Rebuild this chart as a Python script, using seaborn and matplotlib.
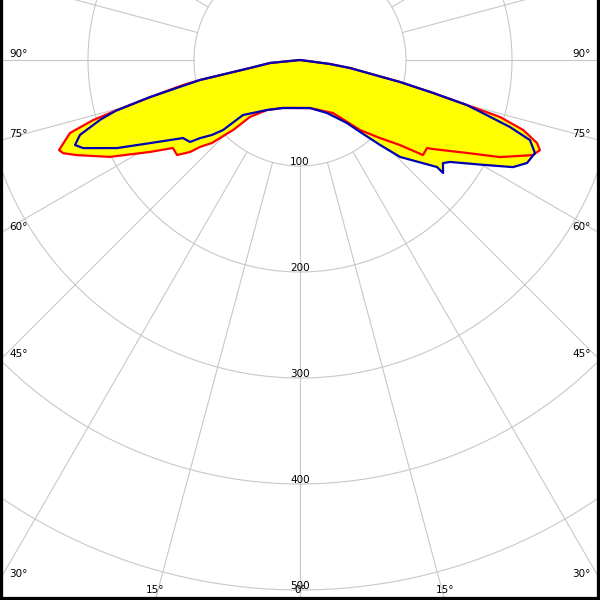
import numpy as np
import matplotlib
matplotlib.use("Agg")
import matplotlib.pyplot as plt
import seaborn as sns

# ---- data (gamma in degrees, intensity in cd) ----
gamma_red = [-90, -84.3, -80.9, -78.7, -77.9, -76.1, -74.7, -73.8, -72.4, -70.6,
             -69.5, -68.5, -66.9, -63.0, -58.5, -55.3, -52.3, -50.1, -49.0, -46.7,
             -43.7, -41.3, -33.4, -19.5, 0, 11.8, 31.9, 40.6, 45.7, 49.6,
             52.3, 55.3, 56.2, 60.9, 64.1, 67.8, 69.4, 70.7, 72.6, 74.1,
             74.9, 76.1, 77.6, 80.9, 82.4, 90]
cd_red = [0, 28.4, 47.8, 96.2, 112.9, 145.8, 179, 203.3, 227.6, 236.7,
          242.7, 240, 228.7, 201.3, 166, 145.8, 146.6, 135.3, 125, 114.1,
          91.4, 71.5, 56.5, 48, 45.3, 46.3, 58.9, 87, 105.4, 123.8,
          146.6, 145.8, 151, 180.3, 209.7, 237.4, 241.8, 236.9, 220.5, 196.2,
          163.2, 129.3, 96.6, 47.8, 28.5, 0]

gamma_blue = [-90, -84.3, -80.9, -78.7, -76.1, -74.6, -73.4, -71.2, -69.3, -67.9,
              -64.3, -61.0, -56.3, -53.3, -52.0, -49.6, -47.7, -46.0, -33.4, -19.5,
              0, 11.8, 27.0, 36.7, 39.2, 43.3, 45.9, 52.0, 51.7, 54.2,
              55.8, 60.2, 63.3, 65.6, 68.4, 70.8, 72.3, 73.8, 74.9, 76.1,
              77.6, 80.9, 82.4, 90]
cd_blue = [0, 28.4, 47.8, 96.2, 145.8, 180, 196.2, 219.3, 226.9, 220.9,
           191.6, 161.7, 132.7, 129.4, 119.7, 109.1, 98.2, 74.7, 56.5, 48,
           45.3, 46.3, 56.1, 74.2, 85.2, 110.1, 131.4, 164, 172, 166.3,
           171.1, 199, 224.9, 235.2, 238.4, 229.7, 207.9, 179.7, 163, 129.3,
           96.6, 47.8, 28.5, 0]

ring_values = [100, 200, 300, 400, 500, 600]
ring_labels = ["100", "200", "300", "400", "500"]
left_angles = [90, 75, 60, 45, 30]
bottom_angles = [15, 0, -15]

# ---- style ----
sns.set_style("white")
plt.rcParams['font.family'] = ['DejaVu Sans']
plt.rcParams['text.color'] = 'black'
GRID = "#c8c8c8"
PX = 1.06  # pixels per cd unit

fig = plt.figure(figsize=(6, 6), dpi=100)
ax = fig.add_axes([0, 0, 1, 1])
XH = 300 / PX
YT = 60 / PX
YB = 540 / PX
ax.set_xlim(-XH, XH)
ax.set_ylim(-YB, YT)
ax.set_aspect("equal", adjustable="box")


def to_xy(g, r):
    g = np.deg2rad(np.asarray(g, dtype=float))
    r = np.asarray(r, dtype=float)
    return r * np.sin(g), -r * np.cos(g)

# grid circles
t = np.linspace(0, 360, 1441)
for rv in ring_values:
    cx, cy = to_xy(t, np.full_like(t, rv))
    ax.plot(cx, cy, color=GRID, lw=0.8, zorder=1)
# radial lines from r=100 outwards
for a in range(0, 360, 15):
    lx, ly = to_xy([a, a], [100, 800])
    ax.plot(lx, ly, color=GRID, lw=0.8, zorder=1)

# fills
rx, ry = to_xy(gamma_red, cd_red)
bx, by = to_xy(gamma_blue, cd_blue)
ax.fill(rx, ry, color="#ffff00", lw=0, zorder=2)
ax.fill(bx, by, color="#ffff00", lw=0, zorder=2)

sns.lineplot(x=rx, y=ry, sort=False, estimator=None, color="#ff0000", lw=1.6, ax=ax, zorder=3)
sns.lineplot(x=bx, y=by, sort=False, estimator=None, color="#0000b4", lw=1.6, ax=ax, zorder=4)

# labels
fs = 7.5
for a in left_angles:
    yint = -XH / np.tan(np.deg2rad(a)) if a != 90 else 0.0
    ax.text(-XH + 9 / PX, yint + 3 / PX, f"{a}°", ha="left", va="baseline",
            fontsize=fs, color="black", zorder=5)
    ax.text(XH - 9 / PX, yint + 3 / PX, f"{a}°", ha="right", va="baseline",
            fontsize=fs, color="black", zorder=5)
for a in bottom_angles:
    xint = YB * np.tan(np.deg2rad(a))
    ax.text(-xint, -YB + 7 / PX, f"{abs(a)}°", ha="center", va="baseline",
            fontsize=fs, color="black", zorder=5)
for rv, lab in zip(ring_values, ring_labels):
    ax.text(0, -rv + 1 / PX, lab, ha="center", va="baseline",
            fontsize=fs, color="black", zorder=5)

ax.set_xticks([])
ax.set_yticks([])
for s in ["left", "right", "bottom"]:
    ax.spines[s].set_visible(True)
    ax.spines[s].set_color("black")
    ax.spines[s].set_linewidth(4.5)
ax.spines["top"].set_visible(False)
ax.set_xlabel("")
ax.set_ylabel("")

fig.savefig("out.png", dpi=100)
